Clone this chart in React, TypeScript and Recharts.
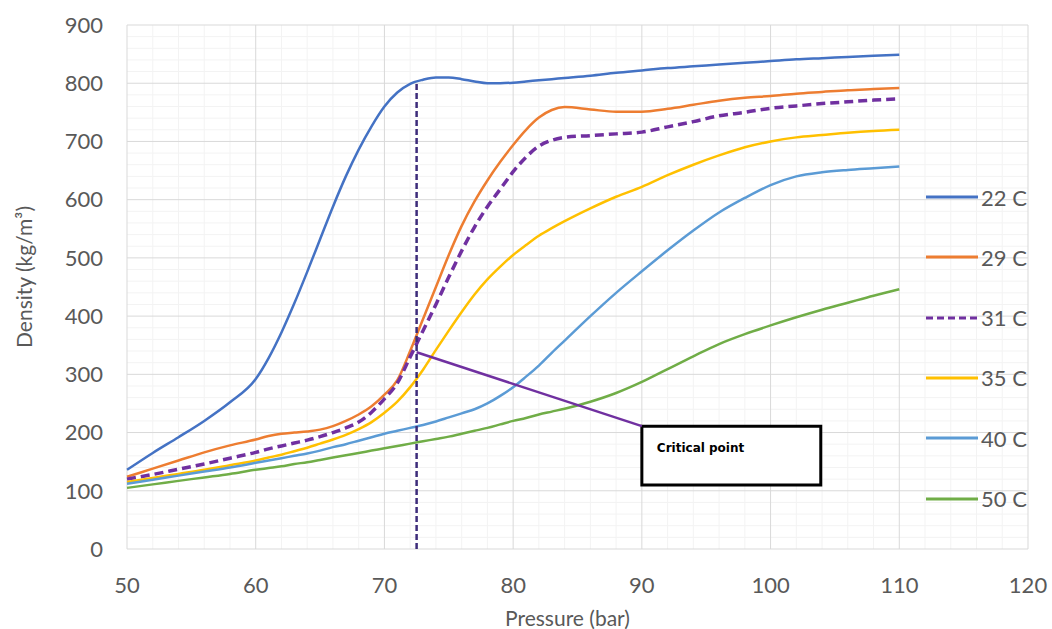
import { LineChart, Line, XAxis, YAxis, CartesianGrid, ReferenceLine, ReferenceArea } from 'recharts';

const PRESSURE = [50, 52, 54, 56, 58, 60, 61, 62, 63, 64, 65, 66, 67, 68, 69, 70, 71, 72, 73, 74, 75, 76, 77, 78, 79, 80, 81, 82, 83, 84, 86, 88, 90, 92, 94, 96, 98, 100, 102, 104, 106, 108, 110];

const D22 = [136, 165, 192, 220, 252, 292, 328, 372, 422, 476, 532, 588, 640, 686, 726, 760, 784, 799, 806, 810, 810, 807, 803, 800, 800, 801, 803, 805, 807, 809, 813, 818, 822, 826, 829, 832, 835, 838, 841, 843, 845, 847, 849];
const D29 = [124, 138, 152, 166, 178, 188, 194, 198, 200, 202, 205, 211, 220, 231, 245, 265, 290, 340, 395, 450, 505, 555, 597, 633, 665, 694, 720, 741, 754, 759, 755, 751, 751, 756, 763, 770, 775, 778, 782, 785, 788, 790, 792];
const D31 = [120, 128, 137, 146, 156, 166, 172, 177, 182, 187, 193, 200, 208, 218, 235, 258, 285, 330, 375, 420, 467, 512, 553, 588, 618, 648, 673, 692, 702, 707, 710, 713, 716, 725, 734, 744, 750, 757, 761, 765, 768, 771, 773];
const D35 = [115, 122, 129, 136, 144, 152, 157, 162, 168, 174, 181, 188, 196, 206, 218, 234, 253, 278, 308, 342, 375, 407, 437, 463, 485, 505, 522, 538, 551, 563, 585, 605, 622, 642, 660, 676, 690, 700, 707, 711, 715, 718, 720];
const D40 = [112, 119, 126, 133, 140, 148, 152, 156, 160, 164, 169, 175, 180, 186, 192, 198, 203, 208, 213, 219, 226, 233, 240, 250, 263, 278, 296, 315, 337, 358, 400, 440, 477, 513, 547, 578, 603, 625, 640, 647, 651, 654, 657];
const D50 = [105, 111, 117, 123, 129, 136, 139, 142, 146, 149, 153, 157, 161, 165, 169, 173, 177, 181, 185, 189, 193, 198, 203, 208, 214, 220, 225, 231, 236, 241, 253, 268, 287, 309, 331, 352, 369, 384, 398, 411, 423, 435, 446];

const SERIES = [
  { key: 'd22', name: '22 C', color: '#4472C4', values: D22 },
  { key: 'd29', name: '29 C', color: '#ED7D31', values: D29 },
  { key: 'd31', name: '31 C', color: '#7030A0', values: D31, dash: '9 5' },
  { key: 'd35', name: '35 C', color: '#FFC000', values: D35 },
  { key: 'd40', name: '40 C', color: '#5B9BD5', values: D40 },
  { key: 'd50', name: '50 C', color: '#70AD47', values: D50 },
];

const X_TICKS = [50, 60, 70, 80, 90, 100, 110, 120];
const Y_TICKS = [0, 100, 200, 300, 400, 500, 600, 700, 800, 900];
const MINOR_X = [52, 54, 56, 58, 62, 64, 66, 68, 72, 74, 76, 78, 82, 84, 86, 88, 92, 94, 96, 98, 102, 104, 106, 108, 112, 114, 116, 118];
const MINOR_Y = [20, 40, 60, 80, 120, 140, 160, 180, 220, 240, 260, 280, 320, 340, 360, 380, 420, 440, 460, 480, 520, 540, 560, 580, 620, 640, 660, 680, 720, 740, 760, 780, 820, 840, 860, 880];

// critical point annotation
const CRIT_P = 72.5;
const CRIT_TOP = 803;
const CRIT_MARK = 338;
const BOX = { x1: 90, x2: 103.9, y1: 110, y2: 211 };

const data = PRESSURE.map((p, i) => {
  const row: Record<string, number> = { p };
  SERIES.forEach(s => { row[s.key] = s.values[i]; });
  return row;
});

const FONT = 'Lato, "Open Sans", sans-serif';
const GREY = '#595959';

function YLabel({ viewBox }: any) {
  const cx = viewBox.x + 23;
  const cy = viewBox.y + viewBox.height / 2 - 10;
  return (
    <text x={cx} y={cy} transform={`rotate(-90 ${cx} ${cy})`} textAnchor="middle" dominantBaseline="central" fill={GREY} fontSize={21} fontFamily={FONT}>
      Density (kg/m³)
    </text>
  );
}

function XLabel({ viewBox }: any) {
  return (
    <text x={viewBox.x + viewBox.width / 2 - 10} y={626} textAnchor="middle" fill={GREY} fontSize={21} fontFamily={FONT}>
      Pressure (bar)
    </text>
  );
}

function BoxLabel({ viewBox }: any) {
  return (
    <text x={viewBox.x + 15} y={viewBox.y + 26} fill="#000" fontSize={12} fontWeight="bold" fontFamily='"DejaVu Sans", sans-serif'>
      Critical point
    </text>
  );
}

export default function App() {
  return (
    <div style={{ position: 'absolute', left: 0, top: 0, width: 1052, height: 629, background: '#fff' }}>
      <LineChart width={1052} height={629} data={data} margin={{ top: 25, right: 24, bottom: 20, left: 0 }}>
        <CartesianGrid stroke="#f3f3f3" strokeWidth={1} verticalValues={MINOR_X} horizontalValues={MINOR_Y} />
        <CartesianGrid stroke="#d9d9d9" strokeWidth={1} />
        <XAxis dataKey="p" type="number" domain={[50, 120]} ticks={X_TICKS} interval={0} axisLine={false} tickLine={false} tickSize={0} tickMargin={28} height={60}
          tick={{ fill: GREY, fontSize: 22, fontFamily: FONT }} label={<XLabel />} />
        <YAxis type="number" domain={[0, 900]} ticks={Y_TICKS} interval={0} axisLine={false} tickLine={false} tickSize={0} tickMargin={24} width={127}
          tick={{ fill: GREY, fontSize: 22, fontFamily: FONT }} label={<YLabel />} />
        {SERIES.map(s => (
          <Line key={s.key} dataKey={s.key} name={s.name} type="monotone" stroke={s.color} strokeWidth={s.dash ? 3.5 : 2.5}
            strokeDasharray={s.dash} dot={false} activeDot={false} isAnimationActive={false} />
        ))}
        <ReferenceLine segment={[{ x: CRIT_P, y: 0 }, { x: CRIT_P, y: CRIT_TOP }]} stroke="#3d2c7a" strokeWidth={2.5} strokeDasharray="6 3" />
        <ReferenceLine segment={[{ x: CRIT_P, y: CRIT_MARK }, { x: BOX.x1, y: BOX.y2 }]} stroke="#7030A0" strokeWidth={2.5} />
        <ReferenceArea x1={BOX.x1} x2={BOX.x2} y1={BOX.y1} y2={BOX.y2} fill="#fff" fillOpacity={1} stroke="#000" strokeWidth={3} label={<BoxLabel />} />
      </LineChart>
      {SERIES.map((s, i) => (
        <div key={s.key} style={{ position: 'absolute', left: 926, top: 183 + i * 60.3, height: 28, display: 'flex', alignItems: 'center' }}>
          <svg width={52} height={8}>
            <line x1={0} y1={4} x2={52} y2={4} stroke={s.color} strokeWidth={3} strokeDasharray={s.dash ? '7 4' : undefined} />
          </svg>
          <span style={{ marginLeft: 3, fontFamily: FONT, fontSize: 22, color: GREY }}>{s.name}</span>
        </div>
      ))}
    </div>
  );
}
